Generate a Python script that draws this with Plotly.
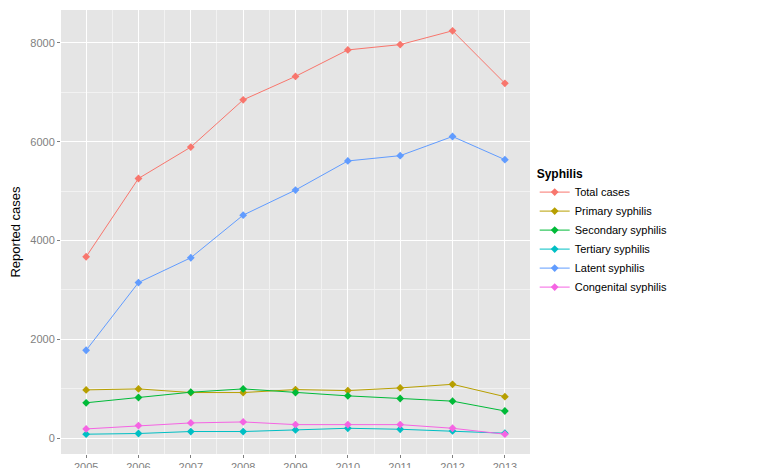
import plotly.graph_objects as go

years = [2005, 2006, 2007, 2008, 2009, 2010, 2011, 2012, 2013]
total = [3672, 5257, 5893, 6849, 7324, 7860, 7967, 8247, 7183]
primary = [977, 997, 923, 923, 983, 963, 1017, 1090, 840]
secondary = [716, 823, 930, 997, 923, 856, 803, 749, 550]
tertiary = [80, 94, 134, 134, 167, 200, 180, 147, 100]
latent = [1779, 3150, 3652, 4515, 5023, 5612, 5719, 6107, 5638]
congenital = [187, 254, 308, 328, 274, 274, 274, 200, 80]

series = [
    ("Total cases", total, "#F8766D"),
    ("Primary syphilis", primary, "#B79F00"),
    ("Secondary syphilis", secondary, "#00BA38"),
    ("Tertiary syphilis", tertiary, "#00BFC4"),
    ("Latent syphilis", latent, "#619CFF"),
    ("Congenital syphilis", congenital, "#F564E3"),
]

fig = go.Figure()
for name, vals, col in series:
    fig.add_trace(go.Scatter(x=years, y=vals, name=name, mode="lines+markers",
                             line=dict(color=col, width=1),
                             marker=dict(color=col, size=6, symbol="diamond")))

fig.update_layout(
    width=778, height=468,
    margin=dict(l=53, r=256, t=2, b=22),
    paper_bgcolor="white", plot_bgcolor="#E5E5E5",
    font=dict(family="Liberation Sans, Arial", size=12, color="black"),
    legend=dict(title=dict(text="<b>Syphilis</b>", font=dict(size=12)),
                x=1.01, y=0.5, yanchor="middle", font=dict(size=11),
                bgcolor="rgba(0,0,0,0)", tracegroupgap=0),
)
fig.update_xaxes(range=[2004.52, 2013.48], tickvals=years, showgrid=True,
                 gridcolor="white", gridwidth=1.2, ticks="outside", ticklen=3,
                 tickcolor="#7F7F7F", tickfont=dict(color="#7F7F7F", size=11),
                 minor=dict(dtick=0.5, tick0=2004.5, showgrid=True, gridcolor="#F2F2F2", gridwidth=0.6),
                 zeroline=False)
fig.update_yaxes(range=[-321, 8668], tickvals=[0, 2000, 4000, 6000, 8000],
                 title=dict(text="Reported cases", font=dict(size=13), standoff=6),
                 showgrid=True, gridcolor="white", gridwidth=1.2, ticks="outside", ticklen=3,
                 tickcolor="#7F7F7F", tickfont=dict(color="#7F7F7F", size=11),
                 minor=dict(dtick=1000, tick0=1000, showgrid=True, gridcolor="#F2F2F2", gridwidth=0.6),
                 zeroline=False)

fig.write_html("out.html")
